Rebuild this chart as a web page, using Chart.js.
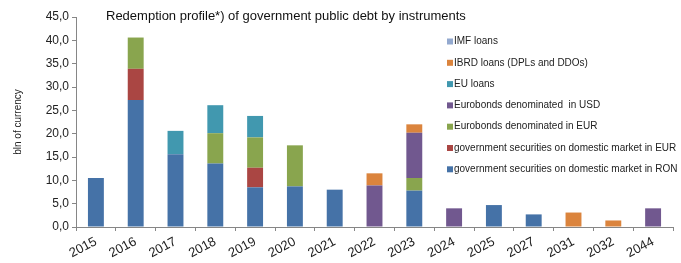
<!DOCTYPE html>
<html>
<head>
<meta charset="utf-8">
<script src="https://cdn.jsdelivr.net/npm/chart.js@4.4.1/dist/chart.umd.min.js"></script>
<style>
  html, body { margin: 0; padding: 0; background: #fff; }
  #wrap { width: 681px; height: 263px; position: relative; }
</style>
</head>
<body>
<div id="wrap"><canvas id="chart" width="681" height="263"></canvas></div>
<script>
// data (bln of currency)
const years = ['2015', '2016', '2017', '2018', '2019', '2020', '2021', '2022', '2023', '2024', '2025', '2027', '2031', '2032', '2044'];
const domRon   = [10.5, 27.2, 15.6, 13.6, 8.5, 8.7, 8.0, 0, 7.8, 0, 4.7, 2.7, 0, 0, 0];
const domEur   = [0, 6.7, 0, 0, 4.2, 0, 0, 0, 0, 0, 0, 0, 0, 0, 0];
const euroEur  = [0, 6.7, 0, 6.5, 6.5, 8.8, 0, 0, 2.7, 0, 0, 0, 0, 0, 0];
const euroUsd  = [0, 0, 0, 0, 0, 0, 0, 8.9, 9.7, 4.0, 0, 0, 0, 0, 4.0];
const euLoans  = [0, 0, 5.0, 6.0, 4.6, 0, 0, 0, 0, 0, 0, 0, 0, 0, 0];
const ibrd     = [0, 0, 0, 0, 0, 0, 0, 2.6, 1.8, 0, 0, 0, 3.1, 1.4, 0];
const imf      = [0, 0, 0, 0, 0, 0, 0, 0, 0, 0, 0, 0, 0, 0, 0];

const FONT = '"Liberation Sans", Arial, sans-serif';
const axisColor = '#868686';

function serie(label, data, color) {
    return { label: label, data: data, backgroundColor: color, borderWidth: 0,
             barPercentage: 0.4, categoryPercentage: 1.0 };
}

// legend inside the plot, top to bottom (reverse of stacking)
const legendPlugin = {
    id: 'boxLegend',
    afterDraw(chart) {
        const ctx = chart.ctx;
        const ds = chart.data.datasets.slice().reverse();
        ctx.save();
        ctx.font = '10px ' + FONT;
        ctx.textBaseline = 'middle';
        ds.forEach((d, i) => {
            const y = 41.5 + i * 21.3;
            ctx.fillStyle = d.backgroundColor;
            ctx.fillRect(447, y - 3, 6, 6);
            ctx.fillStyle = '#222';
            ctx.fillText(d.label, 454, y);
        });
        ctx.restore();
    }
};

new Chart(document.getElementById('chart'), {
    type: 'bar',
    data: {
        labels: years,
        datasets: [
            serie('government securities on domestic market in RON', domRon, '#4572A7'),
            serie('government securities on domestic market in EUR', domEur, '#AA4643'),
            serie('Eurobonds denominated in EUR', euroEur, '#89A54E'),
            serie('Eurobonds denominated  in USD', euroUsd, '#71588F'),
            serie('EU loans', euLoans, '#4198AF'),
            serie('IBRD loans (DPLs and DDOs)', ibrd, '#DB843D'),
            serie('IMF loans', imf, '#93A9CF')
        ]
    },
    options: {
        responsive: false,
        animation: false,
        layout: { padding: { top: 17, right: 8, left: 0, bottom: 0 } },
        scales: {
            x: {
                stacked: true,
                afterFit: (s) => { s.height = 36; },
                grid: { drawOnChartArea: false, drawTicks: true, tickLength: 4, color: axisColor },
                border: { color: axisColor },
                ticks: { color: '#222', font: { family: FONT, size: 13 }, maxRotation: 28, minRotation: 28, autoSkip: false, padding: 3 }
            },
            y: {
                stacked: true,
                min: 0, max: 45,
                afterFit: (s) => { s.width = 76; },
                grid: { drawOnChartArea: false, drawTicks: true, tickLength: 4, color: axisColor },
                border: { color: axisColor },
                title: { display: true, text: 'bln of currency', color: '#222', font: { family: FONT, size: 10 }, padding: { top: 12, bottom: 0 } },
                ticks: {
                    stepSize: 5, color: '#222', padding: 3,
                    font: { family: FONT, size: 12 },
                    callback: (v) => v.toFixed(1).replace('.', ',')
                }
            }
        },
        plugins: {
            legend: { display: false },
            tooltip: { enabled: false },
            title: { display: false }
        }
    },
    plugins: [legendPlugin, {
        id: 'topTitle',
        afterDraw(chart) {
            const ctx = chart.ctx;
            ctx.save();
            ctx.font = '13px ' + FONT;
            ctx.fillStyle = '#111';
            ctx.textBaseline = 'middle';
            ctx.fillText('Redemption profile*) of government public debt by instruments', 106, 16);
            ctx.restore();
        }
    }]
});
</script>
</body>
</html>
